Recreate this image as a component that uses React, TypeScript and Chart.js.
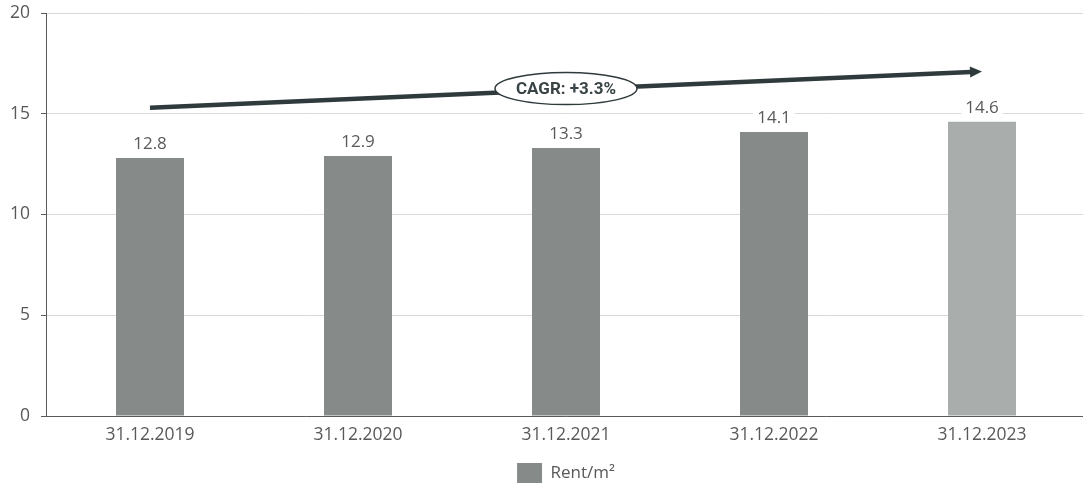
import React, { useEffect, useRef } from "react";
import { Chart, registerables } from "chart.js";

Chart.register(...registerables);

const categories = ["31.12.2019", "31.12.2020", "31.12.2021", "31.12.2022", "31.12.2023"];
const rentValues = [12.8, 12.9, 13.3, 14.1, 14.6];
const barColors = ["#868b89", "#868b89", "#868b89", "#868b89", "#a9aeac"];
const yTicks = [0, 5, 10, 15, 20];
const seriesLabel = "Rent/m²";
const cagrLabel = "CAGR: +3.3%";
const arrowStart = 15.3;
const arrowEnd = 17.1;

const FONT = "'Open Sans', 'Noto Sans', sans-serif";
const TEXT = "#595959";

const legendShiftPlugin = {
  id: "legendShift",
  afterLayout(chart: any) {
    const lg = chart.legend;
    if (!lg) return;
    const area = chart.chartArea;
    const shift = (area.left + area.right) / 2 - (lg.left + lg.right) / 2;
    lg.left += shift;
    lg.right += shift;
    lg.top += 7;
    lg.bottom += 7;
  },
};

const overlayPlugin = {
  id: "overlay",
  afterDatasetsDraw(chart: any) {
    const ctx = chart.ctx;
    const meta = chart.getDatasetMeta(0);
    const y = chart.scales.y;
    const x = chart.scales.x;
    ctx.save();
    ctx.font = `17px ${FONT}`;
    ctx.textAlign = "center";
    ctx.textBaseline = "middle";
    meta.data.forEach((bar: any, i: number) => {
      const label = String(rentValues[i]);
      const w = ctx.measureText(label).width;
      const cy = bar.y - 14;
      ctx.fillStyle = "#ffffff";
      ctx.fillRect(bar.x - w / 2 - 4, cy - 10, w + 8, 20);
      ctx.fillStyle = TEXT;
      ctx.fillText(label, bar.x, cy);
    });

    // arrow
    const x0 = x.getPixelForValue(0);
    const x1 = x.getPixelForValue(categories.length - 1);
    const y0 = y.getPixelForValue(arrowStart);
    const y1 = y.getPixelForValue(arrowEnd);
    const ang = Math.atan2(y1 - y0, x1 - x0);
    const headLen = 12;
    const lx = x1 - headLen * Math.cos(ang);
    const ly = y1 - headLen * Math.sin(ang);
    ctx.strokeStyle = "#2f3a3c";
    ctx.fillStyle = "#2f3a3c";
    ctx.lineWidth = 4.5;
    ctx.lineCap = "butt";
    ctx.beginPath();
    ctx.moveTo(x0, y0);
    ctx.lineTo(lx + 1, ly);
    ctx.stroke();
    const hw = 5.5;
    ctx.beginPath();
    ctx.moveTo(x1, y1);
    ctx.lineTo(lx + hw * Math.sin(ang), ly - hw * Math.cos(ang));
    ctx.lineTo(lx - hw * Math.sin(ang), ly + hw * Math.cos(ang));
    ctx.closePath();
    ctx.fill();

    // ellipse label
    const mx = x.getPixelForValue(2);
    const my = y.getPixelForValue((arrowStart + arrowEnd) / 2) - 1;
    ctx.beginPath();
    ctx.ellipse(mx, my, 71, 16, 0, 0, Math.PI * 2);
    ctx.fillStyle = "#ffffff";
    ctx.fill();
    ctx.lineWidth = 1.5;
    ctx.strokeStyle = "#2f3a3c";
    ctx.stroke();
    ctx.fillStyle = "#3a4446";
    ctx.font = `bold 17px Roboto, 'Liberation Sans Narrow', sans-serif`;
    ctx.fillText(cagrLabel, mx, my + 1);
    ctx.restore();
  },
};

export default function App() {
  const ref = useRef<HTMLCanvasElement>(null);
  useEffect(() => {
    if (!ref.current) return;
    const chart = new Chart(ref.current, {
      type: "bar",
      data: {
        labels: categories,
        datasets: [
          {
            label: seriesLabel,
            data: rentValues,
            backgroundColor: barColors,
            barPercentage: 0.327,
            categoryPercentage: 1,
          },
        ],
      },
      options: {
        animation: false,
        responsive: false,
        maintainAspectRatio: false,
        layout: { padding: { top: 13, right: 0, bottom: 0, left: 0 } },
        plugins: {
          tooltip: { enabled: false },
          legend: {
            position: "bottom",
            labels: {
              font: { family: FONT, size: 17 },
              color: TEXT,
              boxWidth: 25,
              boxHeight: 20,
              padding: 0,
              generateLabels: () => [
                {
                  text: seriesLabel,
                  fillStyle: "#868b89",
                  strokeStyle: "#868b89",
                  lineWidth: 0,
                  fontColor: TEXT,
                  datasetIndex: 0,
                } as any,
              ],
            },
          },
        },
        scales: {
          x: {
            afterFit: (s: any) => {
              s.height = 40;
              s.paddingLeft = 0;
              s.paddingRight = 0;
            },
            grid: { display: false, drawTicks: false },
            border: { display: true, color: "#595959", width: 1 },
            ticks: { font: { family: FONT, size: 17.5 }, color: TEXT, padding: 9 },
          },
          y: {
            min: 0,
            max: 20,
            afterBuildTicks: (s: any) => {
              s.ticks = yTicks.map((v) => ({ value: v }));
            },
            afterFit: (s: any) => {
              s.width = 46;
              s.paddingTop = 0;
              s.paddingBottom = 0;
            },
            grid: { color: "#d9d9d9", tickLength: 5, tickColor: "#595959" },
            border: { display: true, color: "#595959", width: 1 },
            ticks: { font: { family: FONT, size: 17.5 }, color: TEXT, padding: 11 },
          },
        },
      },
      plugins: [overlayPlugin, legendShiftPlugin],
    });
    return () => chart.destroy();
  }, []);
  return (
    <div style={{ position: "absolute", left: 0, top: 0, width: 1086, height: 486, overflow: "hidden" }}>
      <canvas ref={ref} width={1086} height={486} style={{ display: "block" }} />
    </div>
  );
}
